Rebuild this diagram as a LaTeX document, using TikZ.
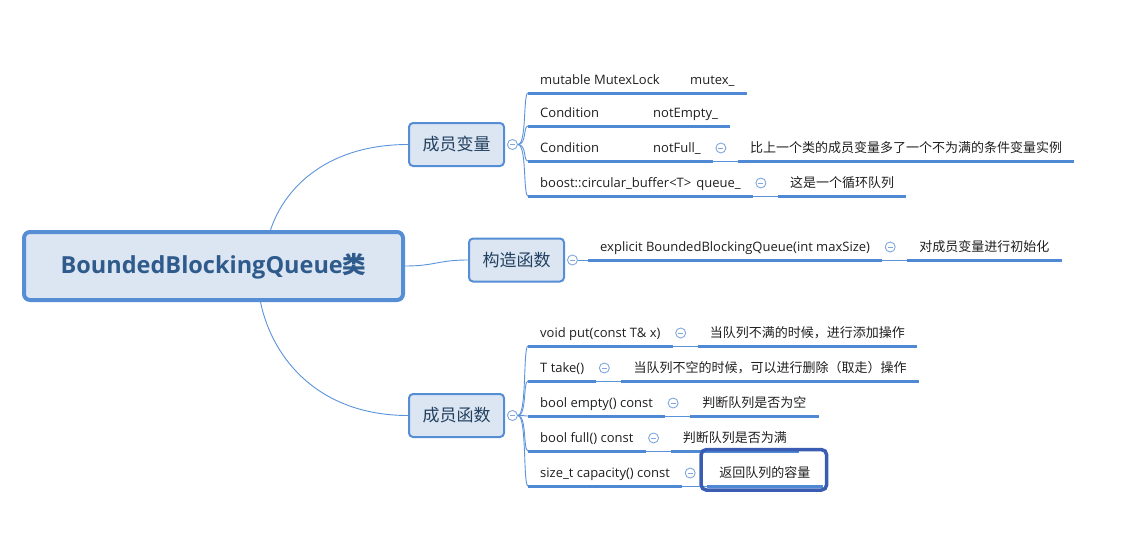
\documentclass[tikz,border=0pt]{standalone}
\usepackage{fontspec}
\usepackage{xcolor}
\usetikzlibrary{positioning}
\setmainfont{Open Sans}
\newfontfamily\cjk{Noto Sans CJK SC}
\definecolor{boxfill}{HTML}{DCE6F2}
\definecolor{boxline}{HTML}{558ED5}
\definecolor{ulblue}{HTML}{4F88D3}
\definecolor{thinblue}{HTML}{5B93DB}
\definecolor{foldblue}{HTML}{7FA7DD}
\definecolor{roottext}{HTML}{2F5B8C}
\definecolor{subtext}{HTML}{22405F}
\definecolor{selblue}{HTML}{3A5DB3}
\tikzset{
    root-box/.style = {draw=boxline, fill=boxfill, line width=4pt, rounded corners=6pt, minimum width=379pt, minimum height=68pt, font=\bfseries\fontsize{23.5}{28}\selectfont, text=roottext},
    sub-box/.style = {draw=boxline, fill=boxfill, line width=2pt, rounded corners=4pt, minimum width=95pt, minimum height=43pt, font=\cjk\fontsize{17}{20}\selectfont, text=subtext},
    leaf/.style = {anchor=south west, inner xsep=12pt, inner ysep=5pt, text height=10pt, text depth=3pt, font=\fontsize{13}{16}\selectfont, text=black!88},
    fold/.style = {circle, draw=foldblue, fill=white, line width=0.9pt, minimum size=10pt, inner sep=0pt,
        path picture={\draw[foldblue, line width=0.9pt] ([xshift=-2.5pt]path picture bounding box.center) -- ([xshift=2.5pt]path picture bounding box.center);}},
    uline/.style = {ulblue, line width=3pt},
    thin-link/.style = {thinblue, line width=0.8pt},
    branch-link/.style = {thinblue, line width=0.9pt},
    selected/.style = {draw=selblue, line width=3.5pt, rounded corners=5pt},
}
\begin{document}
\begin{tikzpicture}[x=1pt, y=-1pt]
\useasboundingbox (0,0) rectangle (1124,538);

% main topic and the three branches
\node[root-box] (root) at (213.5,266) {BoundedBlockingQueue{\cjk 类}};
\node[sub-box] (vars) at (456.5,144.5) {成员变量};
\node[sub-box] (ctor) at (516.5,260) {构造函数};
\node[sub-box] (funcs) at (456.5,415.5) {成员函数};
\node[fold, right=2pt of vars] (varsfold) {};
\node[fold, right=2pt of ctor] (ctorfold) {};
\node[fold, right=2pt of funcs] (funcsfold) {};

\draw[branch-link] ([xshift=57pt]root.north) .. controls +(15,-45) and +(-78,0) .. (vars.west);
\draw[branch-link] (root.east) .. controls +(30,0) and +(-30,0) .. (ctor.west);
\draw[branch-link] ([xshift=47pt]root.south) .. controls +(12,58) and +(-88,0) .. (funcs.west);

% member variables
\node[leaf] (mutex) at (528,93) {\makebox[150pt][l]{mutable MutexLock}mutex\_};
\node[leaf] (notempty) at (528,126) {\makebox[113pt][l]{Condition}notEmpty\_};
\node[leaf] (notfull) at (528,161) {\makebox[113pt][l]{Condition}notFull\_};
\node[leaf] (queue) at (528,196) {boost::circular\_buffer<T>\hspace{5pt}queue\_};
\node[fold] (notfullfold) at ([shift={(8pt,13pt)}]notfull.south east) {};
\node[fold] (queuefold) at ([shift={(8pt,13pt)}]queue.south east) {};
\node[leaf] (notfulldesc) at ([xshift=25pt]notfull.south east) {\cjk 比上一个类的成员变量多了一个不为满的条件变量实例};
\node[leaf] (queuedesc) at ([xshift=25pt]queue.south east) {\cjk 这是一个循环队列};

% constructor
\node[leaf] (ctorleaf) at (588,260) {explicit BoundedBlockingQueue(int maxSize)};
\node[fold] (ctorleaffold) at ([shift={(8pt,13pt)}]ctorleaf.south east) {};
\node[leaf] (ctordesc) at ([xshift=25pt]ctorleaf.south east) {\cjk 对成员变量进行初始化};

% member functions
\node[leaf] (put) at (528,346) {void put(const T\& x)};
\node[leaf] (take) at (528,381) {T take()};
\node[leaf] (empty) at (528,416) {bool empty() const};
\node[leaf] (full) at (528,451) {bool full() const};
\node[leaf] (capacity) at (528,486) {size\_t capacity() const};
\foreach \n in {put,take,empty,full,capacity}
    \node[fold] (\n fold) at ([shift={(8pt,13pt)}]\n.south east) {};
\node[leaf] (putdesc) at ([xshift=25pt]put.south east) {\cjk 当队列不满的时候，进行添加操作};
\node[leaf] (takedesc) at ([xshift=25pt]take.south east) {\cjk 当队列不空的时候，可以进行删除（取走）操作};
\node[leaf] (emptydesc) at ([xshift=25pt]empty.south east) {\cjk 判断队列是否为空};
\node[leaf] (fulldesc) at ([xshift=25pt]full.south east) {\cjk 判断队列是否为满};
\node[leaf] (capacitydesc) at ([xshift=25pt]capacity.south east) {\cjk 返回队列的容量};

% links and underlines
\foreach \n in {mutex,notempty,notfull,queue}
    \draw[branch-link] (varsfold.east) .. controls +(9,0) and +(-5,0) .. (\n.south west);
\foreach \n in {put,take,empty,full,capacity}
    \draw[branch-link] (funcsfold.east) .. controls +(9,0) and +(-5,0) .. (\n.south west);
\draw[thin-link] (ctorfold.east) -- (ctorleaf.south west);
\foreach \a/\b in {notfull/notfulldesc,queue/queuedesc,ctorleaf/ctordesc,put/putdesc,take/takedesc,empty/emptydesc,full/fulldesc,capacity/capacitydesc}
    \draw[thin-link] (\a.south east) -- (\b.south west);
\foreach \n in {mutex,notempty,notfull,queue,notfulldesc,queuedesc,ctorleaf,ctordesc,put,take,empty,full,capacity,putdesc,takedesc,emptydesc,fulldesc,capacitydesc}
    \draw[uline] (\n.south west) -- (\n.south east);

\draw[selected] ([shift={(-6pt,13pt)}]capacitydesc.north west) rectangle ([shift={(4pt,-4pt)}]capacitydesc.south east);
\end{tikzpicture}
\end{document}
